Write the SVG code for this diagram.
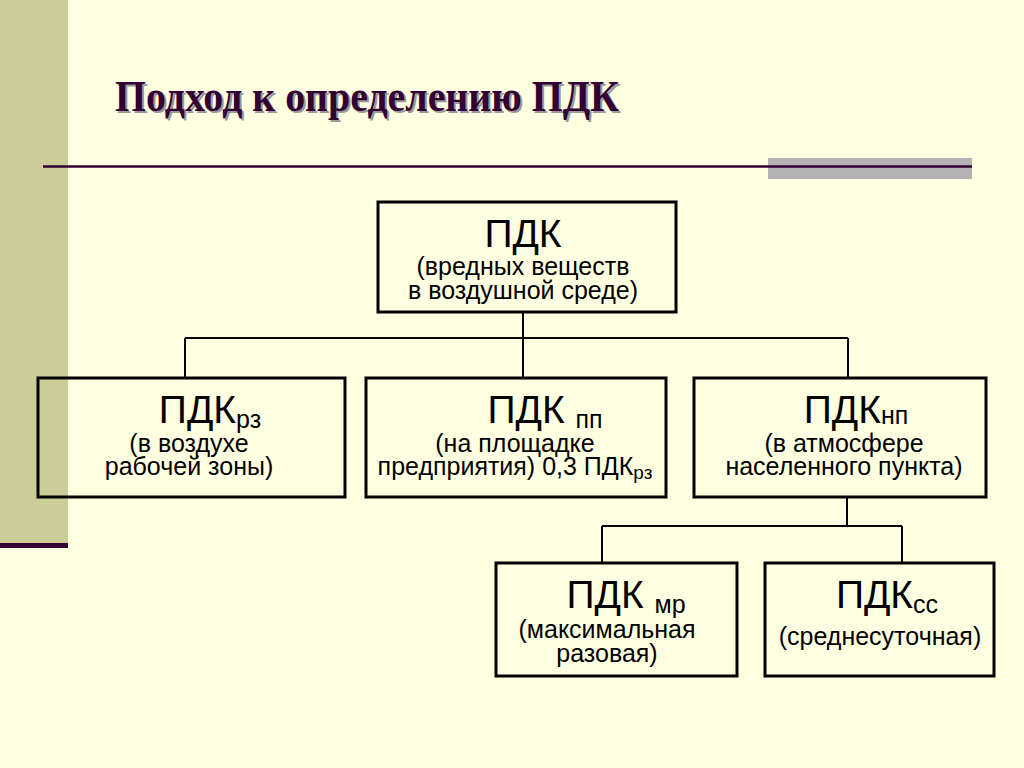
<svg xmlns="http://www.w3.org/2000/svg" width="1024" height="768" viewBox="0 0 1024 768">
<defs>
<style>
.box{fill:none;stroke:#000;stroke-width:3}
.conn{fill:none;stroke:#000;stroke-width:2}
.main{font-family:"Liberation Sans",Arial,sans-serif;font-size:39px;fill:#000;text-anchor:middle}
.sub{font-size:25px}
.desc{font-family:"Liberation Sans",Arial,sans-serif;font-size:25px;fill:#000;text-anchor:middle}
.dsub{font-size:19px}
.title{font-family:"Liberation Serif","Times New Roman",serif;font-weight:bold;font-size:44px}
</style>
</defs>
<rect x="0" y="0" width="1024" height="768" fill="#FFFFE1"/>
<rect x="0" y="0" width="68" height="543" fill="#CCCC99"/>
<rect x="0" y="543" width="68" height="5" fill="#330033"/>
<rect x="768" y="158" width="204" height="21" fill="#B2B2B2"/>
<line x1="43" y1="166.5" x2="972" y2="166.5" stroke="#330033" stroke-width="2.5"/>
<text x="117" y="113" class="title" fill="#999999" textLength="504" lengthAdjust="spacingAndGlyphs">Подход к определению ПДК</text>
<text x="115" y="111" class="title" fill="#330033" textLength="504" lengthAdjust="spacingAndGlyphs">Подход к определению ПДК</text>
<g id="connectors">
<path class="conn" d="M523 312 V338 M185 338 H848 M185 338 V378 M523 338 V378 M848 338 V378"/>
<path class="conn" d="M847 497 V526 M602 526 H902 M602 526 V563 M902 526 V563"/>
</g>
<g id="node-root">
<rect class="box" x="378" y="202" width="298" height="110"/>
<text class="main" x="523" y="247">ПДК</text>
<text class="desc" x="523" y="275">(вредных веществ</text>
<text class="desc" x="523" y="299">в воздушной среде)</text>
</g>
<g id="node-rz">
<rect class="box" x="38" y="378" width="307" height="119"/>
<text class="main" x="210" y="423">ПДК<tspan class="sub" dy="5">рз</tspan></text>
<text class="desc" x="189" y="452">(в воздухе</text>
<text class="desc" x="189" y="475">рабочей зоны)</text>
</g>
<g id="node-pp">
<rect class="box" x="366" y="378" width="300" height="119"/>
<text class="main" x="545" y="423">ПДК <tspan class="sub" dy="5">пп</tspan></text>
<text class="desc" x="515" y="452">(на площадке</text>
<text class="desc" x="515" y="475">предприятия) 0,3 ПДК<tspan class="dsub" dy="4">рз</tspan></text>
</g>
<g id="node-np">
<rect class="box" x="694" y="378" width="292" height="119"/>
<text class="main" x="856" y="423">ПДК<tspan class="sub" dy="1">нп</tspan></text>
<text class="desc" x="844" y="452">(в атмосфере</text>
<text class="desc" x="844" y="475">населенного пункта)</text>
</g>
<g id="node-mr">
<rect class="box" x="496" y="563" width="241" height="113"/>
<text class="main" x="626" y="608">ПДК <tspan class="sub" dy="5">мр</tspan></text>
<text class="desc" x="607" y="638">(максимальная</text>
<text class="desc" x="607" y="662">разовая)</text>
</g>
<g id="node-ss">
<rect class="box" x="765" y="563" width="229" height="113"/>
<text class="main" x="887" y="608">ПДК<tspan class="sub" dy="5">сс</tspan></text>
<text class="desc" x="880" y="645">(среднесуточная)</text>
</g>
</svg>
